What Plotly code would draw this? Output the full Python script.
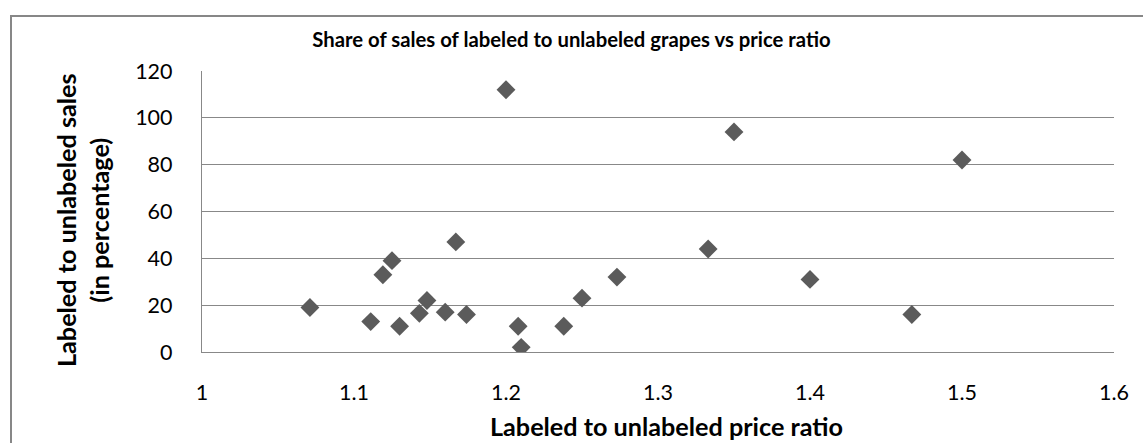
import plotly.graph_objects as go

# Data
price_ratio = [1.071, 1.111, 1.119, 1.125, 1.130, 1.143, 1.148, 1.160, 1.167, 1.174,
               1.200, 1.208, 1.210, 1.238, 1.250, 1.273, 1.333, 1.350, 1.400, 1.467, 1.500]
sales_share = [19, 13, 33, 39, 11, 16.5, 22, 17, 47, 16,
               112, 11, 2, 11, 23, 32, 44, 94, 31, 16, 82]

x_ticks = [1, 1.1, 1.2, 1.3, 1.4, 1.5, 1.6]
y_ticks = [0, 20, 40, 60, 80, 100, 120]

title_text = "Share of sales of labeled to unlabeled grapes vs price ratio"
x_title = "Labeled to unlabeled price ratio"
y_title = "Labeled to unlabeled sales<br>(in percentage)"

FONT = "Lato"
GRID = "#888888"

fig = go.Figure()
fig.add_trace(go.Scatter(
    x=price_ratio, y=sales_share, mode="markers",
    marker=dict(symbol="diamond", size=14.5, color="#5b5b5b", line=dict(width=0)),
    showlegend=False,
))

W, H = 1143, 443
L, R, T, B = 202, 29, 71, 91
pw, ph = W - L - R, H - T - B

def px_x(p):
    return (p - L) / pw

def px_y(p):
    return (H - B - p) / ph

fig.update_layout(
    width=W, height=H,
    margin=dict(l=L, r=R, t=T, b=B, pad=0, autoexpand=False),
    paper_bgcolor="white", plot_bgcolor="white",
    font=dict(family=FONT, color="#000000"),
    title=dict(text="<b>" + title_text + "</b>", x=0.5, xref="container",
               xanchor="center", y=1 - 40 / H, yanchor="middle",
               font=dict(size=20.3, family=FONT, color="#000000")),
    xaxis=dict(
        range=[1, 1.6], tickvals=x_ticks, ticktext=[f"{v:g}" for v in x_ticks],
        showgrid=False, zeroline=False, showline=True, linecolor=GRID, linewidth=1.3,
        ticks="", ticklabelstandoff=21, automargin=False,
        tickfont=dict(size=21.5, family=FONT, color="#000000"),
    ),
    yaxis=dict(
        range=[0, 120], tickvals=y_ticks,
        showgrid=True, gridcolor=GRID, gridwidth=1.3, zeroline=False,
        showline=True, linecolor=GRID, linewidth=1.3,
        ticks="", ticklabelstandoff=24, automargin=False,
        tickfont=dict(size=21.5, family=FONT, color="#000000"),
    ),
    annotations=[
        dict(text="<b>" + x_title + "</b>", xref="paper", yref="paper",
             x=px_x(666), y=px_y(426), xanchor="center", yanchor="middle",
             showarrow=False, font=dict(size=25.2, family=FONT, color="#000000")),
        dict(text="<b>" + y_title + "</b>", xref="paper", yref="paper",
             x=px_x(82), y=px_y(220), xanchor="center", yanchor="middle",
             textangle=-90, showarrow=False,
             font=dict(size=25.2, family=FONT, color="#000000")),
    ],
    shapes=[dict(
        type="rect", xref="paper", yref="paper",
        x0=px_x(11), x1=px_x(1170), y0=px_y(16), y1=px_y(470),
        line=dict(color="#878787", width=2), fillcolor="rgba(0,0,0,0)", layer="below",
    )],
)

fig.write_html("out.html", config={"displayModeBar": False},
               post_script="document.body.style.margin='0';document.body.style.overflow='hidden';")
